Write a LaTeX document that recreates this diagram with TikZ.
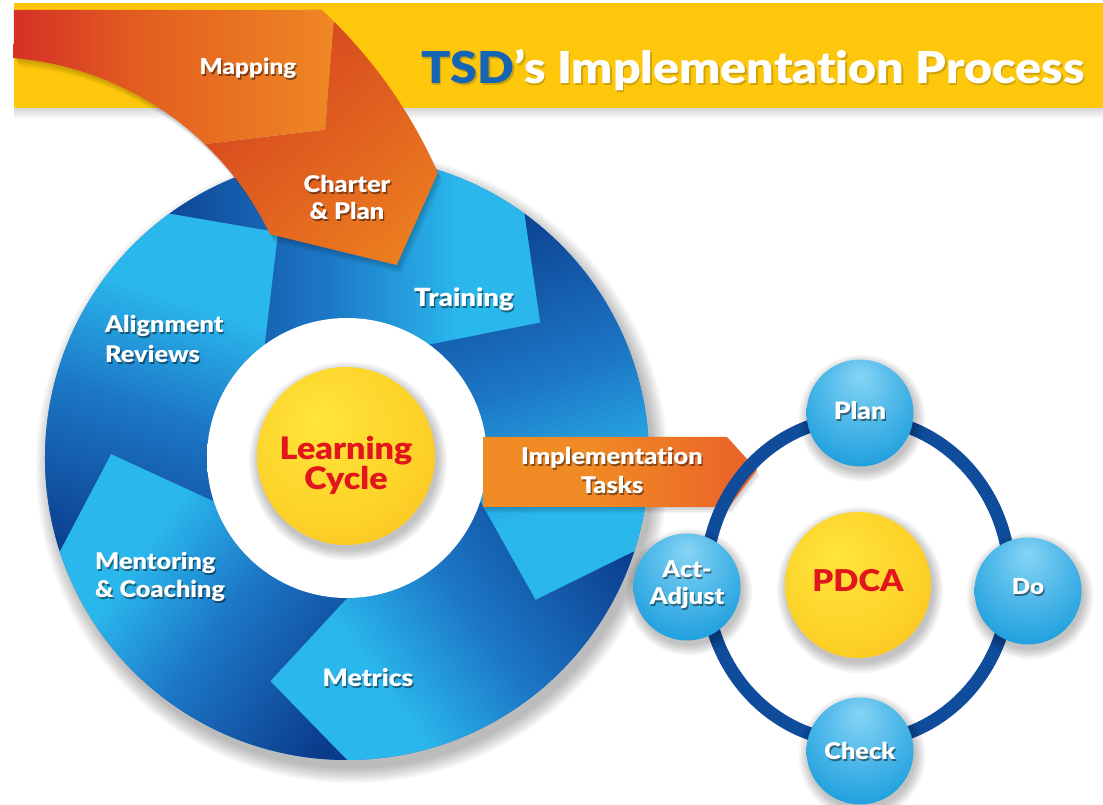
\documentclass[tikz,border=0pt]{standalone}
\usepackage{fontspec}
\setmainfont{Lato}[BoldFont={Lato Black}, FakeStretch=1.1, Ligatures=NoCommon]
\usetikzlibrary{calc}

% palette
\definecolor{navy}{HTML}{0B3C8C}
\definecolor{midblue}{HTML}{1C77C6}
\definecolor{cyanlt}{HTML}{2AB7EC}
\definecolor{banner}{HTML}{FDC70C}
\definecolor{orgdark}{HTML}{D94E1F}
\definecolor{orglight}{HTML}{F5951F}
\definecolor{mapred}{HTML}{D1202A}
\definecolor{mapmid}{HTML}{E35E20}
\definecolor{maporange}{HTML}{F08B24}
\definecolor{implorange}{HTML}{F08A24}
\definecolor{implmid}{HTML}{E9592A}
\definecolor{implred}{HTML}{DF2A2A}
\definecolor{titleblue}{HTML}{1565B4}
\definecolor{cyclered}{HTML}{E2141C}
\definecolor{sunlight}{HTML}{FFE53C}
\definecolor{sunmid}{HTML}{FDD228}
\definecolor{sundark}{HTML}{F7B01A}
\definecolor{ballhi}{HTML}{86D5F5}
\definecolor{ballmid}{HTML}{24A2DF}
\definecolor{balledge}{HTML}{1470BD}
\definecolor{pdcaring}{HTML}{0F4C9B}

% shadings
\pgfdeclarehorizontalshading{segshade}{100bp}{color(0bp)=(navy); color(20bp)=(navy); color(46bp)=(midblue); color(64bp)=(cyanlt); color(100bp)=(cyanlt)}
\pgfdeclarehorizontalshading{chartershade}{100bp}{color(0bp)=(orgdark); color(35bp)=(orgdark); color(100bp)=(orglight)}
\pgfdeclarehorizontalshading{mapshade}{100bp}{color(0bp)=(mapred); color(18bp)=(mapred); color(45bp)=(mapmid); color(78bp)=(maporange); color(100bp)=(maporange)}
\pgfdeclarehorizontalshading{implshade}{100bp}{color(0bp)=(implorange); color(45bp)=(implorange); color(80bp)=(implmid); color(100bp)=(implred)}
\pgfdeclareradialshading{holeshade}{\pgfpoint{0bp}{0bp}}{color(0bp)=(white); color(39bp)=(white); color(50bp)=(black!30)}
\pgfdeclareradialshading{sunshade}{\pgfpoint{-8bp}{10bp}}{color(0bp)=(sunlight); color(25bp)=(sunmid); color(50bp)=(sundark); color(60bp)=(sundark)}
\pgfdeclareradialshading{ballshade}{\pgfpoint{0bp}{18bp}}{color(0bp)=(ballhi); color(14bp)=(ballhi!55!ballmid); color(32bp)=(ballmid); color(50bp)=(balledge); color(60bp)=(balledge)}

\newcommand\lf[1]{\bfseries\fontsize{#1}{#1}\selectfont}

\tikzset{
  lbl/.style={anchor=base, text=white, inner sep=0pt, font=\lf{22}},
  ball/.style={circle, inner sep=0pt, minimum size=107pt, shade, shading=ballshade},
  sun/.style={circle, inner sep=0pt, shade, shading=sunshade},
}

% white text with a soft dark drop shadow
\newcommand\shlabel[4][]{%
  \node[lbl,#1,text=black,text opacity=0.45,xshift=1.3pt,yshift=-1.8pt] at (#3) {#4};
  \node[lbl,#1] (#2) at (#3) {#4};}

% soft round shadow under a disc
\newcommand\softdisc[2]{%
  \foreach \i in {1,...,7}{\fill[black,opacity=0.035] ([shift={(2,-5)}]#1) circle [radius=#2+\i*1.6];}}

\begin{document}
\begin{tikzpicture}[x=1pt,y=1pt]
\useasboundingbox (0,0) rectangle (1103,805);
\fill[white] (0,0) rectangle (1103,805);

% ---- title banner
\shade[top color=black!16, bottom color=white] (14,686) rectangle (1103,697);
\fill[banner] (14,697) rectangle (1103,802);
\node[anchor=base, font=\lf{44}, text=black, text opacity=0.18, xshift=1.5pt, yshift=-2pt] at (753,721) {TSD’s Implementation Process};
\node[anchor=base, font=\lf{44}, text=white] (title) at (753,721) {\textcolor{titleblue}{TSD}’s Implementation Process};

% ---- learning cycle ring
\coordinate (C) at (347,347);
\foreach \i in {1,...,9} \fill[black,opacity=0.03] ([shift={(5,-9)}]C) circle [radius=300+\i*1.8];
\fill[midblue] (C) circle [radius=302];
\begin{scope}[shift={(C)}]
  \foreach \b in {126,54,-18,-90,-162}{
    \pgfmathsetmacro\tipA{\b-19}
    \pgfmathsetmacro\frontA{\b-72}
    \pgfmathsetmacro\tipB{\b-91}
    \pgfmathsetmacro\shA{\b-126}
    \shade[shading=segshade, shading angle=\shA]
      (\b:302) -- (\tipA:236) -- (\b:140)
      arc[start angle=\b, end angle=\frontA, radius=140]
      -- (\tipB:236) -- (\frontA:302)
      arc[start angle=\frontA, end angle=\b, radius=302] -- cycle;
  }
\end{scope}
\shade[shading=holeshade] (C) circle [radius=140];

% centre disc
\coordinate (lc) at (346,349);
\softdisc{lc}{88}
\node[sun, minimum size=178pt] (learning) at (lc) {};

% ---- mapping / charter arrow band
\begin{scope}[shift={(-12,435)}]
  \foreach \i in {1,...,6}
    \fill[black, opacity=0.035, shift={(\i*0.8,-\i*1.4)}]
      (26,360) -- (47.2:491) arc[start angle=47.2, end angle=23.65, radius=491]
      -- (14.4:422) -- (25.7:313) arc[start angle=25.7, end angle=85.3, radius=313] -- cycle;
  \shade[shading=chartershade, shading angle=-50]
    (45.25:491) arc[start angle=45.25, end angle=23.65, radius=491]
    -- (14.4:422) -- (25.7:313) arc[start angle=25.7, end angle=46.2, radius=313]
    -- (35.5:414) -- cycle;
  \shade[shading=mapshade]
    (26,360) -- (47.2:491) arc[start angle=47.2, end angle=45.25, radius=491]
    -- (35.5:414) -- (46.2:313) arc[start angle=46.2, end angle=85.3, radius=313] -- cycle;
\end{scope}

% ---- implementation tasks arrow
\foreach \i in {1,...,5}
  \fill[black, opacity=0.04, shift={(\i*0.6,-\i*1.2)}] (483,368) -- (727,368) -- (757,335) -- (729,298) -- (483,298) -- cycle;
\shade[shading=implshade] (483,368) -- (727,368) -- (757,335) -- (729,298) -- (483,298) -- cycle;

% ---- PDCA cycle
\coordinate (pc) at (858,225);
\draw[pdcaring, line width=13pt] (pc) ellipse [x radius=152, y radius=162];
\coordinate (pdcac) at (858,220);
\softdisc{pdcac}{72}
\node[sun, minimum size=146pt] (pdca) at (pdcac) {};
\coordinate (planc) at (860,392);
\coordinate (doc) at (1028,214);
\coordinate (checkc) at (860,54);
\coordinate (actc) at (687,218);
\softdisc{planc}{52}
\softdisc{doc}{52}
\softdisc{checkc}{52}
\softdisc{actc}{52}
\node[ball] (plan) at (planc) {};
\node[ball] (do) at (doc) {};
\node[ball] (check) at (checkc) {};
\node[ball] (act) at (actc) {};

% ---- labels
\shlabel[font=\lf{22}]{tMapping}{248,730}{Mapping}
\shlabel[font=\lf{23}]{tCharter}{347,612}{Charter}
\shlabel[font=\lf{23}]{tPlanB}{347,585}{\& Plan}
\shlabel[font=\lf{25}]{tTraining}{464,498}{Training}
\shlabel[font=\lf{23},anchor=base west]{tAlign}{105,472}{Alignment}
\shlabel[font=\lf{23},anchor=base west]{tReview}{105,442}{Reviews}
\shlabel[font=\lf{23},anchor=base west]{tMentor}{95,235}{Mentoring}
\shlabel[font=\lf{23},anchor=base west]{tCoach}{95,207}{\& Coaching}
\shlabel[font=\lf{24}]{tMetrics}{368,118}{Metrics}
\shlabel[font=\lf{23}]{tImpl}{612,340}{Implementation}
\shlabel[font=\lf{23}]{tTasks}{612,311}{Tasks}
\shlabel[font=\lf{24}]{tPlan}{860,385}{Plan}
\shlabel[font=\lf{22}]{tDo}{1028,210}{Do}
\shlabel[font=\lf{23}]{tCheck}{860,45}{Check}
\shlabel[font=\lf{23}]{tAct}{687,227}{Act-}
\shlabel[font=\lf{23}]{tAdjust}{687,200}{Adjust}
\node[lbl, font=\lf{31}, text=cyclered] (tLearning) at (346,345) {Learning};
\node[lbl, font=\lf{31}, text=cyclered] (tCycle) at (346,315) {Cycle};
\node[lbl, font=\lf{30}, text=cyclered] (tPDCA) at (858,213) {PDCA};
\end{tikzpicture}
\end{document}
